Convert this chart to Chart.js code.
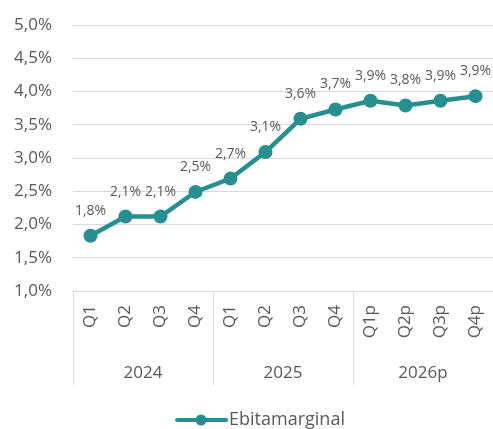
<!DOCTYPE html>
<html>
<head>
<meta charset="utf-8">
<script src="https://cdn.jsdelivr.net/npm/chart.js@4"></script>
<style>
html,body{margin:0;padding:0;background:#fff;}
#wrap{width:493px;height:429px;}
</style>
</head>
<body>
<div id="wrap"><canvas id="c" width="493" height="429"></canvas></div>
<script>
const quarters = ['Q1','Q2','Q3','Q4','Q1','Q2','Q3','Q4','Q1p','Q2p','Q3p','Q4p'];
const years = ['2024','2025','2026p'];
const quartersPerYear = [4,4,4];
const ebitaMargin = [1.83,2.12,2.12,2.49,2.69,3.09,3.59,3.73,3.86,3.79,3.86,3.93];
const valueLabels = ['1,8%','2,1%','2,1%','2,5%','2,7%','3,1%','3,6%','3,7%','3,9%','3,8%','3,9%','3,9%'];
const yTickLabels = ['1,0%','1,5%','2,0%','2,5%','3,0%','3,5%','4,0%','4,5%','5,0%'];
const seriesName = 'Ebitamarginal';

const TEAL = '#268F8F';
const TEXT = '#595959';
const GRID = '#d9d9d9';
const FONT = "'Open Sans', sans-serif";

// legend marker: line with dot (drawn in the right part of a wider transparent image)
const marker = document.createElement('canvas');
marker.width = 90; marker.height = 14;
(function(){
  const g = marker.getContext('2d');
  g.strokeStyle = TEAL; g.lineWidth = 4; g.lineCap = 'round';
  g.beginPath(); g.moveTo(38,7); g.lineTo(87,7); g.stroke();
  g.fillStyle = TEAL; g.beginPath(); g.arc(62,7,5.5,0,Math.PI*2); g.fill();
})();

const dataLabelPlugin = {
  id: 'dataLabels',
  afterDatasetsDraw(chart) {
    const ctx = chart.ctx;
    const meta = chart.getDatasetMeta(0);
    ctx.save();
    ctx.font = "14px " + FONT;
    ctx.fillStyle = TEXT;
    ctx.textAlign = 'center';
    ctx.textBaseline = 'middle';
    meta.data.forEach((pt, i) => {
      ctx.fillText(valueLabels[i], pt.x, pt.y - 25);
    });
    ctx.restore();
  }
};

const groupPlugin = {
  id: 'groupSeparators',
  afterDraw(chart) {
    const xs = chart.scales.x;
    const x2 = chart.scales.x2;
    const ctx = chart.ctx;
    const half = (xs.getPixelForValue(1) - xs.getPixelForValue(0)) / 2;
    ctx.save();
    ctx.strokeStyle = GRID;
    ctx.lineWidth = 1;
    let idx = 0;
    const bounds = [0];
    quartersPerYear.forEach(n => { idx += n; bounds.push(idx); });
    bounds.forEach(b => {
      const px = Math.round(xs.getPixelForValue(b) - half) + 0.5;
      ctx.beginPath();
      ctx.moveTo(px, chart.chartArea.bottom);
      ctx.lineTo(px, x2.top + 38);
      ctx.stroke();
    });
    ctx.restore();
  }
};

const zeroPad = s => { s.paddingLeft = 0; s.paddingRight = 0; };

new Chart(document.getElementById('c'), {
  type: 'line',
  data: {
    labels: quarters,
    datasets: [{
      label: seriesName,
      data: ebitaMargin,
      borderColor: TEAL,
      backgroundColor: TEAL,
      borderWidth: 4.5,
      pointRadius: 7,
      pointHoverRadius: 7,
      pointBorderWidth: 0,
      pointBackgroundColor: TEAL,
      tension: 0,
      pointStyle: 'circle',
      clip: false
    }]
  },
  options: {
    responsive: false,
    animation: false,
    devicePixelRatio: 1,
    layout: { autoPadding: false, padding: { left: 0, right: 0, top: 25, bottom: -10 } },
    plugins: {
      tooltip: { enabled: false },
      legend: {
        position: 'bottom',
        labels: {
          usePointStyle: true,
          pointStyleWidth: 72,
          color: TEXT,
          font: { size: 18, family: FONT },
          padding: 0,
          generateLabels(chart) {
            return [{
              text: seriesName,
              pointStyle: marker,
              fillStyle: TEAL,
              strokeStyle: TEAL,
              lineWidth: 0,
              fontColor: TEXT,
              datasetIndex: 0
            }];
          }
        }
      }
    },
    scales: {
      y: {
        min: 1, max: 5,
        ticks: {
          stepSize: 0.5,
          color: TEXT,
          font: { size: 17, family: FONT },
          padding: 21,
          callback: (v, i) => yTickLabels[i]
        },
        grid: { color: GRID, lineWidth: 1, drawTicks: false },
        border: { display: false },
        afterFit: s => { s.width = 73; s.paddingTop = 0; s.paddingBottom = 0; }
      },
      x: {
        offset: true,
        ticks: {
          color: TEXT,
          font: { size: 17, family: FONT },
          maxRotation: 90, minRotation: 90,
          padding: 14,
          autoSkip: false
        },
        grid: { display: false, drawTicks: false },
        border: { display: false },
        afterFit: s => { s.height = 56; zeroPad(s); }
      },
      x2: {
        type: 'category',
        labels: years,
        position: 'bottom',
        offset: true,
        ticks: {
          color: TEXT,
          font: { size: 17, family: FONT },
          padding: 16,
          maxRotation: 0,
          autoSkip: false
        },
        grid: { display: false, drawTicks: false },
        border: { display: false },
        afterFit: s => { s.height = 64; zeroPad(s); }
      }
    }
  },
  plugins: [dataLabelPlugin, groupPlugin]
});
</script>
</body>
</html>
